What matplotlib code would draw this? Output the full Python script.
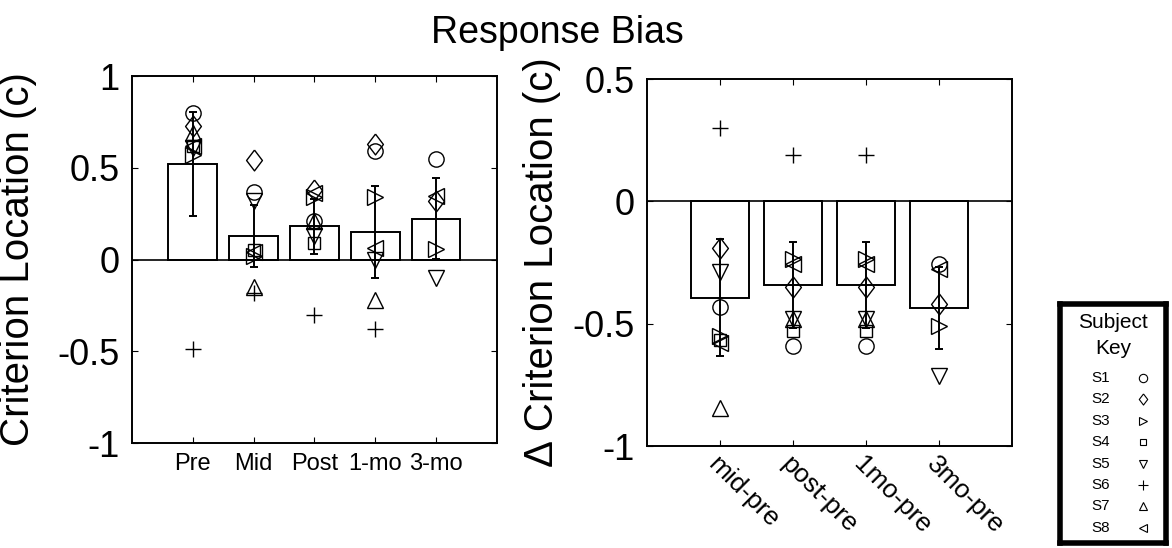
import numpy as np
import matplotlib
matplotlib.use("Agg")
import matplotlib.pyplot as plt

plt.rcParams['font.family'] = ['Liberation Sans', 'DejaVu Sans']
plt.rcParams['axes.unicode_minus'] = False

# per-subject criterion values, NaN where the session is missing
sessions = ["Pre", "Mid", "Post", "1-mo", "3-mo"]
subjects = ["S1", "S2", "S3", "S4", "S5", "S6", "S7", "S8"]
nan = np.nan

s1 = [0.80, 0.37, 0.21, 0.59, 0.545]
s2 = [0.73, 0.54, 0.38, 0.63, 0.32]
s3 = [0.57, 0.02, 0.34, 0.34, 0.055]
s4 = [0.62, 0.05, 0.09, nan, nan]
s5 = [0.61, 0.32, 0.13, 0.00, -0.10]
s6 = [-0.49, -0.18, -0.30, -0.38, nan]
s7 = [0.69, -0.15, 0.21, -0.22, nan]
s8 = [0.62, 0.04, 0.36, 0.06, 0.345]

bar_means = [0.52, 0.127, 0.18, 0.15, 0.223]
bar_errs  = [0.285, 0.17, 0.148, 0.25, 0.222]

# change from pre
diff_labels = ["mid-pre", "post-pre", "1mo-pre", "3mo-pre"]
d1 = [-0.43, -0.59, -0.59, -0.255]
d2 = [-0.19, -0.35, -0.35, -0.42]
d3 = [-0.55, -0.235, -0.235, -0.51]
d4 = [-0.565, -0.53, -0.53, nan]
d5 = [-0.29, -0.48, -0.48, -0.715]
d6 = [0.30, 0.19, 0.19, nan]
d7 = [-0.845, -0.48, -0.48, nan]
d8 = [-0.58, -0.255, -0.255, -0.275]

diff_means = [-0.393, -0.343, -0.343, -0.435]
diff_errs  = [0.24, 0.175, 0.175, 0.167]

# diamond a bit wider than matplotlib's thin 'd'
diamond = [(0, 1), (0.76, 0), (0, -1), (-0.76, 0), (0, 1)]
markers = ['o', diamond, '>', 's', 'v', '+', '^', '<']
sizes   = [11, 15, 11, 8, 11, 12, 11, 11]
key_sizes = [6, 8, 6, 5, 6, 7, 6, 6]


def draw_panel(ax, means, errs, subject_rows):
    x = np.arange(1, len(means) + 1)
    ax.bar(x, means, width=0.8, color='white', edgecolor='black', linewidth=1.4, zorder=2)
    ax.errorbar(x, means, yerr=errs, fmt='none', ecolor='black', elinewidth=1.4,
                capsize=3, capthick=1.4, zorder=3)
    for row, m, ms in zip(subject_rows, markers, sizes):
        ax.plot(x, row, linestyle='none', marker=m, markersize=ms,
                markerfacecolor='none', markeredgecolor='black', markeredgewidth=1.0,
                zorder=4)
    ax.axhline(0, color='black', linewidth=1.2, zorder=2.5)
    ax.set_xlim(0, len(means) + 1)
    ax.set_xticks(x)
    ax.tick_params(direction='in', length=4, top=True, right=True, width=0.8)
    ax.tick_params(axis='y', labelsize=26, pad=9)
    for sp in ax.spines.values():
        sp.set_linewidth(1.4)


fig = plt.figure(figsize=(11.72, 5.48), dpi=100)

ax1 = fig.add_axes([0.1126, 0.1916, 0.3114, 0.6697])
draw_panel(ax1, bar_means, bar_errs, [s1, s2, s3, s4, s5, s6, s7, s8])
ax1.set_ylim(-1, 1)
ax1.set_yticks([-1, -0.5, 0, 0.5, 1])
ax1.set_yticklabels(["-1", "-0.5", "0", "0.5", "1"])
ax1.set_xticklabels(sessions, fontsize=17)
ax1.tick_params(axis='x', pad=7)
ax1.set_ylabel("Criterion Location (c)", fontsize=29)
ax1.yaxis.set_label_coords(-0.26, 0.5)

ax2 = fig.add_axes([0.552, 0.1861, 0.3114, 0.6697])
draw_panel(ax2, diff_means, diff_errs, [d1, d2, d3, d4, d5, d6, d7, d8])
ax2.set_ylim(-1, 0.5)
ax2.set_yticks([-1, -0.5, 0, 0.5])
ax2.set_yticklabels(["-1", "-0.5", "0", "0.5"])
ax2.set_xticklabels(diff_labels, fontsize=19, rotation=-45, ha='left', va='top',
                    rotation_mode='anchor')
ax2.tick_params(axis='x', pad=4)
ax2.set_ylabel("\u0394 Criterion Location (c)", fontsize=29)
ax2.yaxis.set_label_coords(-0.236, 0.5)

fig.text(557 / 1172, 1 - 33 / 548, "Response Bias", fontsize=27, ha='center', va='center')

# subject key box
key = fig.add_axes([1060 / 1172, 1 - 543 / 548, 106 / 1172, 239 / 548])
key.set_xlim(0, 1)
key.set_ylim(0, 1)
key.set_xticks([])
key.set_yticks([])
for sp in key.spines.values():
    sp.set_linewidth(4)
key.text(0.5, (543 - 322) / 239, "Subject", fontsize=15, ha='center', va='center')
key.text(0.5, (543 - 349) / 239, "Key", fontsize=15, ha='center', va='center')
for i, (name, m, ms) in enumerate(zip(subjects, markers, key_sizes)):
    yy = (543 - (378 + 21.4 * i)) / 239
    key.text(0.30, yy, name, fontsize=11, ha='left', va='center')
    key.plot([0.78], [yy], linestyle='none', marker=m, markersize=ms,
             markerfacecolor='none', markeredgecolor='black', markeredgewidth=0.8)

fig.savefig("out.png", dpi=100)
